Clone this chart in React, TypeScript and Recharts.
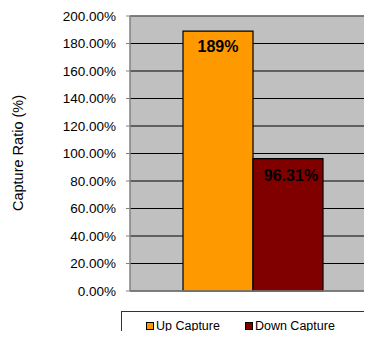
import { Bar, BarChart, CartesianGrid, Customized, LabelList, Legend, ReferenceLine, XAxis, YAxis } from "recharts";

const categories = [""];
const upCapture = [189];
const downCapture = [96.31];
const yTicks = [0, 20, 40, 60, 80, 100, 120, 140, 160, 180, 200];

const seriesNames = { up: "Up Capture", down: "Down Capture" };
const colors = { up: "#FF9900", down: "#800000" };

const chartData = categories.map((name, i) => ({
  name,
  up: upCapture[i],
  down: downCapture[i],
}));

const FONT = "'Liberation Sans', Arial, sans-serif";

function LegendBox() {
  const item = (color: string, label: string, ml: number) => (
    <span style={{ display: "inline-flex", alignItems: "center", marginLeft: ml }}>
      <span
        style={{
          width: 6,
          height: 6,
          background: color,
          border: "1px solid #000",
          marginRight: 2,
          display: "inline-block",
        }}
      />
      <span>{label}</span>
    </span>
  );
  return (
    <div
      style={{
        boxSizing: "border-box",
        width: 246,
        height: 40,
        border: "1px solid #333",
        background: "#fff",
        fontFamily: FONT,
        fontSize: 12.5,
        color: "#000",
        paddingTop: 7,
        textAlign: "left",
        whiteSpace: "nowrap",
      }}
    >
      {item(colors.up, seriesNames.up, 24)}
      {item(colors.down, seriesNames.down, 25)}
    </div>
  );
}

function Extras() {
  return (
    <g>
      <text x={184} y={0} fontFamily={FONT} fontWeight="bold" fontSize={16} fill="#000">
        Capture Ratio
      </text>
      <text
        x={18}
        y={153}
        transform="rotate(-90 18 153)"
        textAnchor="middle"
        dominantBaseline="central"
        fontFamily={FONT}
        fontSize={14.5}
        fill="#000"
      >
        Capture Ratio (%)
      </text>
    </g>
  );
}

export default function App() {
  return (
    <div style={{ margin: -8, width: 372, height: 339, overflow: "hidden", position: "relative", background: "#fff" }}>
      <BarChart
        width={390}
        height={360}
        data={chartData}
        margin={{ top: 16, right: 13, bottom: 69, left: 0 }}
        barCategoryGap="21.46%"
        barGap={0}
      >
        <CartesianGrid vertical={false} stroke="#000" strokeWidth={1} fill="#C0C0C0" fillOpacity={1} />
        <XAxis dataKey="name" hide />
        <YAxis
          width={130}
          domain={[0, 200]}
          ticks={yTicks}
          interval={0}
          tickFormatter={(v: number) => `${v.toFixed(2)}%`}
          tick={{ fill: "#000", fontSize: 13.5, fontFamily: FONT }}
          tickSize={4}
          tickMargin={10}
          tickLine={{ stroke: "#808080" }}
          axisLine={{ stroke: "#808080", strokeWidth: 1.5 }}
        />
        <ReferenceLine y={200} stroke="#808080" strokeWidth={1.5} />
        <ReferenceLine y={0} stroke="#808080" strokeWidth={1.5} />
        <Bar dataKey="up" name={seriesNames.up} fill={colors.up} stroke="#000" strokeWidth={1.2} isAnimationActive={false}>
          <LabelList
            dataKey="up"
            position="insideTop"
            offset={10}
            formatter={(v: number) => `${v}%`}
            style={{ fontFamily: FONT, fontSize: 16, fontWeight: "bold", fill: "#000" }}
          />
        </Bar>
        <Bar dataKey="down" name={seriesNames.down} fill={colors.down} stroke="#000" strokeWidth={1.2} isAnimationActive={false}>
          <LabelList
            dataKey="down"
            position="insideTop"
            offset={11}
            dx={3}
            formatter={(v: number) => `${v}%`}
            style={{ fontFamily: FONT, fontSize: 16, fontWeight: "bold", fill: "#000" }}
          />
        </Bar>
        <Legend
          layout="horizontal"
          verticalAlign="middle"
          align="center"
          content={() => <LegendBox />}
          wrapperStyle={{ left: 121, top: 311, width: 246 }}
        />
        <Customized component={Extras} />
      </BarChart>
    </div>
  );
}
